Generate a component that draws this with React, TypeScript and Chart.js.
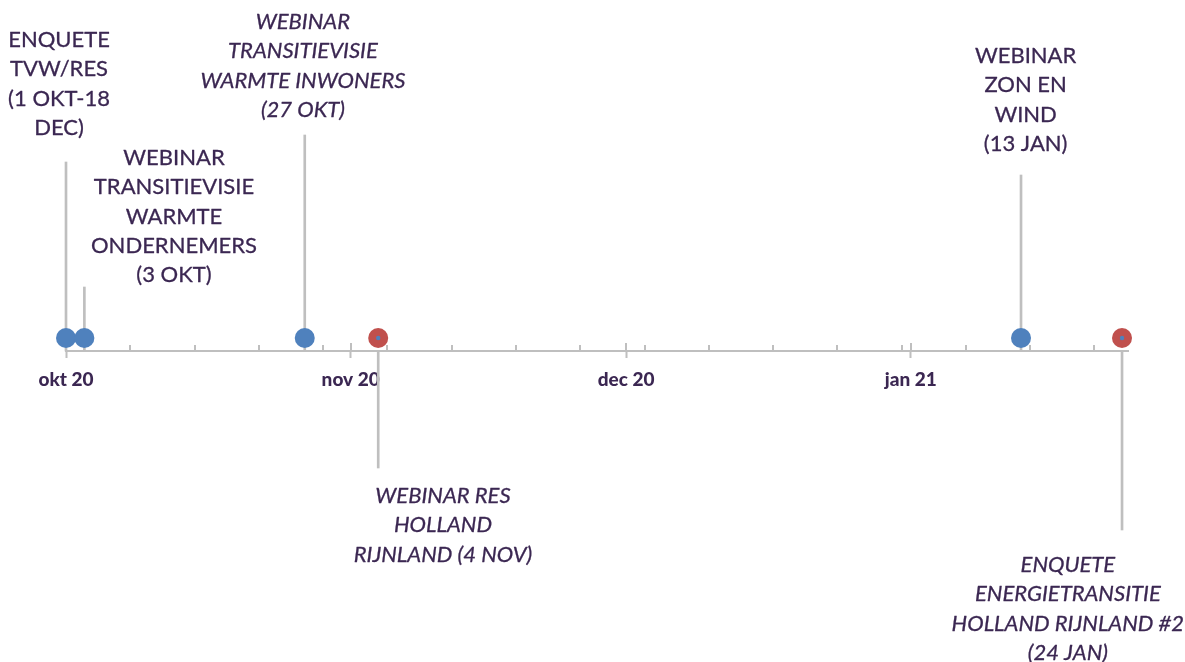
import React, { useEffect, useRef } from "react";
import { Chart, registerables } from "chart.js";

Chart.register(...registerables);

// Days counted from 1 Oct 2020
const eventDays = [0, 2, 26, 34, 104, 115];
const eventSeries = ["blue", "blue", "blue", "red", "blue", "red"];
const leaderHeights = [189, 64, 216, -117, 176, -179];
const eventLabels = [
  ["ENQUETE", "TVW/RES", "(1 OKT-18", "DEC)"],
  ["WEBINAR", "TRANSITIEVISIE", "WARMTE", "ONDERNEMERS", "(3 OKT)"],
  ["WEBINAR", "TRANSITIEVISIE", "WARMTE INWONERS", "(27 OKT)"],
  ["WEBINAR RES", "HOLLAND", "RIJNLAND (4 NOV)"],
  ["WEBINAR", "ZON EN", "WIND", "(13 JAN)"],
  ["ENQUETE", "ENERGIETRANSITIE", "HOLLAND RIJNLAND #2", "(24 JAN)"],
];
const labelItalic = [false, false, true, true, false, true];
const labelDay = [-0.76, 11.76, 25.8, 41.05, 104.5, 109.1];
const labelLevel = [311, 193, 329, -145, 295, -214];

const monthStartDays = [0, 31, 61, 92];
const monthLabels = ["okt 20", "nov 20", "dec 20", "jan 21"];
const weekDays = [7, 14, 21, 28, 35, 42, 49, 56, 63, 70, 77, 84, 91, 98, 105, 112];
const markerLevel = 13;
const axisStart = 0;
const axisEnd = 115.65;
const levelMin = -311;
const levelMax = 351;

const BLUE = "#4f81bd";
const RED = "#c0504d";
const GREY = "#bfbfbf";
const TEXT = "#3b2752";

export default function App() {
  const ref = useRef<HTMLCanvasElement | null>(null);

  useEffect(() => {
    if (!ref.current) return;

    const blueData = eventDays
      .map((d, i) => ({ x: d, y: markerLevel, s: eventSeries[i] }))
      .filter((p) => p.s === "blue")
      .map(({ x, y }) => ({ x, y }));
    const redData = eventDays
      .map((d, i) => ({ x: d, y: markerLevel, s: eventSeries[i] }))
      .filter((p) => p.s === "red")
      .map(({ x, y }) => ({ x, y }));
    const leaderData = eventDays.map((d, i) => ({ x: d, y: [0, leaderHeights[i]] }));

    const tickMarks = {
      id: "tickMarks",
      beforeDatasetsDraw(chart: any) {
        const ctx = chart.ctx;
        const xs = chart.scales.x;
        const ys = chart.scales.y;
        const axisY = Math.round(ys.getPixelForValue(0));
        ctx.save();
        ctx.strokeStyle = GREY;
        ctx.lineWidth = 2;
        xs.ticks.forEach((t: any) => {
          const px = Math.round(xs.getPixelForValue(t.value));
          const major = monthStartDays.includes(t.value);
          ctx.beginPath();
          ctx.moveTo(px, axisY - (major ? 8 : 6));
          ctx.lineTo(px, axisY);
          ctx.stroke();
        });
        ctx.restore();
      },
    };

    const labelsPlugin = {
      id: "eventLabels",
      afterDatasetsDraw(chart: any) {
        const ctx = chart.ctx;
        const xs = chart.scales.x;
        const ys = chart.scales.y;
        ctx.save();
        ctx.fillStyle = TEXT;
        ctx.strokeStyle = TEXT;
        ctx.lineWidth = 0.3;
        ctx.lineJoin = "round";
        ctx.textAlign = "center";
        ctx.textBaseline = "middle";
        eventLabels.forEach((lines, i) => {
          ctx.font = `${labelItalic[i] ? "italic " : ""}22px Lato`;
          const x = xs.getPixelForValue(labelDay[i]);
          const y0 = ys.getPixelForValue(labelLevel[i]);
          lines.forEach((line, j) => {
            ctx.fillText(line, x, y0 + j * 29.3);
            ctx.strokeText(line, x, y0 + j * 29.3);
          });
        });
        ctx.restore();
      },
    };

    const chart = new Chart(ref.current, {
      type: "scatter",
      data: {
        datasets: [
          {
            type: "scatter",
            label: "center",
            data: redData,
            pointRadius: 2.2,
            pointBackgroundColor: BLUE,
            pointBorderWidth: 0,
            clip: false,
            order: 0,
          } as any,
          {
            type: "scatter",
            label: "Webinars",
            data: blueData,
            pointRadius: 10,
            pointBackgroundColor: BLUE,
            pointBorderColor: BLUE,
            pointBorderWidth: 0,
            clip: false,
            order: 1,
          } as any,
          {
            type: "scatter",
            label: "Regio",
            data: redData,
            pointRadius: 10,
            pointBackgroundColor: RED,
            pointBorderColor: RED,
            pointBorderWidth: 0,
            clip: false,
            order: 1,
          } as any,
          {
            type: "bar",
            label: "leaders",
            data: leaderData,
            backgroundColor: GREY,
            borderWidth: 0,
            barThickness: 2,
            grouped: false,
            clip: false,
            order: 2,
          } as any,
        ],
      },
      options: {
        animation: false,
        responsive: true,
        maintainAspectRatio: false,
        layout: { autoPadding: false, padding: { left: 66, right: 57, top: 0, bottom: 0 } },
        plugins: {
          legend: { display: false },
          tooltip: { enabled: false },
        },
        scales: {
          x: {
            type: "linear",
            position: { y: 0 } as any,
            offset: false,
            min: axisStart,
            max: axisEnd,
            afterBuildTicks: (scale: any) => {
              const vals = [...monthStartDays, ...weekDays].sort((a, b) => a - b);
              scale.ticks = vals.map((v) => ({ value: v }));
            },
            ticks: {
              autoSkip: false,
              maxRotation: 0,
              padding: 11,
              color: TEXT,
              font: { family: "Lato", size: 19, weight: "900" },
              callback: (value: any) => {
                const idx = monthStartDays.indexOf(Number(value));
                return idx >= 0 ? monthLabels[idx] : "";
              },
            },
            grid: {
              offset: false,
              drawOnChartArea: false,
              drawTicks: true,
              tickLength: 6,
              tickWidth: 2,
              tickColor: (c: any) =>
                c.tick && monthStartDays.includes(c.tick.value) ? GREY : "rgba(0,0,0,0)",
            },
            border: { display: true, color: GREY, width: 2 },
          },
          y: {
            type: "linear",
            display: false,
            min: levelMin,
            max: levelMax,
          },
        },
      },
      plugins: [tickMarks, labelsPlugin],
    });

    return () => chart.destroy();
  }, []);

  return (
    <div style={{ position: "fixed", left: 0, top: 0, width: 1185, height: 662, background: "#fff" }}>
      <canvas ref={ref} />
    </div>
  );
}
